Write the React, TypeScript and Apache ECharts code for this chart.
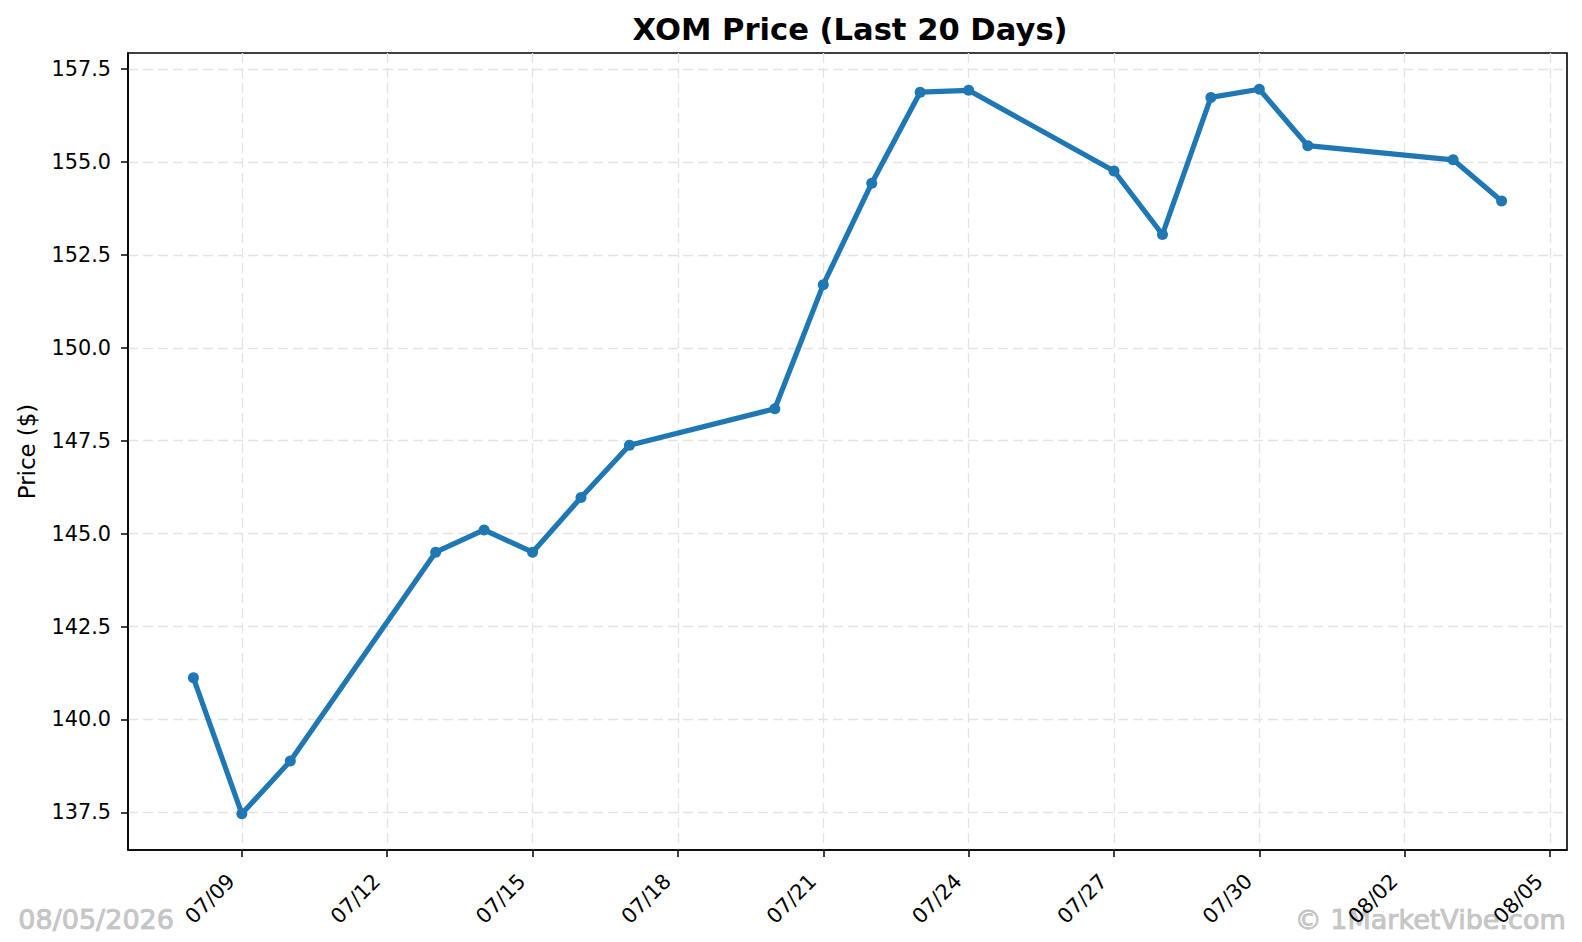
import React, { useEffect, useRef } from "react";
import * as echarts from "echarts";

const dates = [
  "2026-07-08", "2026-07-09", "2026-07-10", "2026-07-13", "2026-07-14",
  "2026-07-15", "2026-07-16", "2026-07-17", "2026-07-20", "2026-07-21",
  "2026-07-22", "2026-07-23", "2026-07-24", "2026-07-27", "2026-07-28",
  "2026-07-29", "2026-07-30", "2026-07-31", "2026-08-03", "2026-08-04",
];
const prices = [
  141.12, 137.46, 138.88, 144.50, 145.10,
  144.50, 145.97, 147.38, 148.36, 151.70,
  154.43, 156.88, 156.93, 154.76, 153.05,
  156.74, 156.96, 155.44, 155.06, 153.95,
];
const xTickDates = [
  "2026-07-09", "2026-07-12", "2026-07-15", "2026-07-18", "2026-07-21",
  "2026-07-24", "2026-07-27", "2026-07-30", "2026-08-02", "2026-08-05",
];
const yTicks = [137.5, 140.0, 142.5, 145.0, 147.5, 150.0, 152.5, 155.0, 157.5];
const titleText = "XOM Price (Last 20 Days)";
const yAxisName = "Price ($)";
const dateStamp = "08/05/2026";
const brand = "© 1MarketVibe.com";

const toTs = (s: string) => {
  const [y, m, d] = s.split("-").map(Number);
  return Date.UTC(y, m - 1, d);
};
const pad2 = (n: number) => (n < 10 ? "0" + n : "" + n);
const fmtDate = (ts: number) => {
  const d = new Date(ts);
  return pad2(d.getUTCMonth() + 1) + "/" + pad2(d.getUTCDate());
};

const FONT = "DejaVu Sans";

export default function App() {
  const ref = useRef<HTMLDivElement>(null);
  useEffect(() => {
    if (!ref.current) return;
    const chart = echarts.init(ref.current, undefined, { renderer: "svg" });
    const xs = dates.map(toTs);
    const xMinD = Math.min(...xs);
    const xMaxD = Math.max(...xs);
    const xPad = (xMaxD - xMinD) * 0.05;
    const yMinD = Math.min(...prices);
    const yMaxD = Math.max(...prices);
    const yPad = (yMaxD - yMinD) * 0.05;
    const xTicks = xTickDates.map(toTs);

    chart.setOption({
      animation: false,
      backgroundColor: "#ffffff",
      title: {
        text: titleText,
        left: 845,
        top: 9,
        textAlign: "center",
        textStyle: { fontFamily: FONT, fontWeight: "bold", fontSize: 30.6, color: "#000" },
      },
      grid: {
        left: 128,
        right: 15,
        top: 53,
        bottom: 92,
        show: true,
        borderColor: "#000",
        borderWidth: 1.6,
        containLabel: false,
      },
      xAxis: {
        type: "value",
        min: xMinD - xPad,
        max: xMaxD + xPad,
        axisLine: { show: true, lineStyle: { color: "#000", width: 1.6 } },
        axisTick: {
          show: true,
          length: 7,
          lineStyle: { color: "#000", width: 1.5 },
          customValues: xTicks,
        },
        axisLabel: {
          customValues: xTicks,
          formatter: (v: number) => fmtDate(v),
          rotate: 45,
          margin: 17,
          padding: [0, 15, 0, 0],
          fontFamily: FONT,
          fontSize: 20.8,
          color: "#000",
        },
        splitLine: {
          show: true,
          lineStyle: { color: "#e3e3e3", width: 1.3, type: [10, 5] },
        },
      },
      yAxis: {
        type: "value",
        min: yMinD - yPad,
        max: yMaxD + yPad,
        name: yAxisName,
        nameLocation: "middle",
        nameGap: 90,
        nameRotate: 90,
        nameTextStyle: { fontFamily: FONT, fontSize: 22.9, color: "#000" },
        axisLine: { show: true, lineStyle: { color: "#000", width: 1.6 } },
        axisTick: {
          show: true,
          length: 7,
          lineStyle: { color: "#000", width: 1.5 },
          customValues: yTicks,
        },
        axisLabel: {
          customValues: yTicks,
          formatter: (v: number) => v.toFixed(1),
          margin: 17,
          fontFamily: FONT,
          fontSize: 20.8,
          color: "#000",
        },
        splitLine: {
          show: true,
          lineStyle: { color: "#e3e3e3", width: 1.3, type: [10, 5] },
        },
      },
      series: [
        {
          type: "line",
          data: xs.map((t, i) => [t, prices[i]]),
          symbol: "circle",
          symbolSize: 11,
          showSymbol: true,
          lineStyle: { color: "#1f77b4", width: 5.2 },
          itemStyle: { color: "#1f77b4" },
          z: 5,
        },
      ],
      graphic: [
        {
          type: "text",
          left: 18,
          top: 906,
          style: {
            text: dateStamp,
            font: `27px "${FONT}"`,
            fill: "#c6c6c6",
            stroke: "#a8a8a8",
            lineWidth: 0.6,
          },
        },
        {
          type: "text",
          right: 16,
          top: 906,
          style: {
            text: brand,
            font: `27px "${FONT}"`,
            fill: "#c6c6c6",
            stroke: "#a8a8a8",
            lineWidth: 0.6,
          },
        },
      ],
    });
    return () => chart.dispose();
  }, []);
  return (
    <div
      ref={ref}
      style={{ position: "fixed", left: 0, top: 0, width: 1582, height: 942, background: "#fff" }}
    />
  );
}
